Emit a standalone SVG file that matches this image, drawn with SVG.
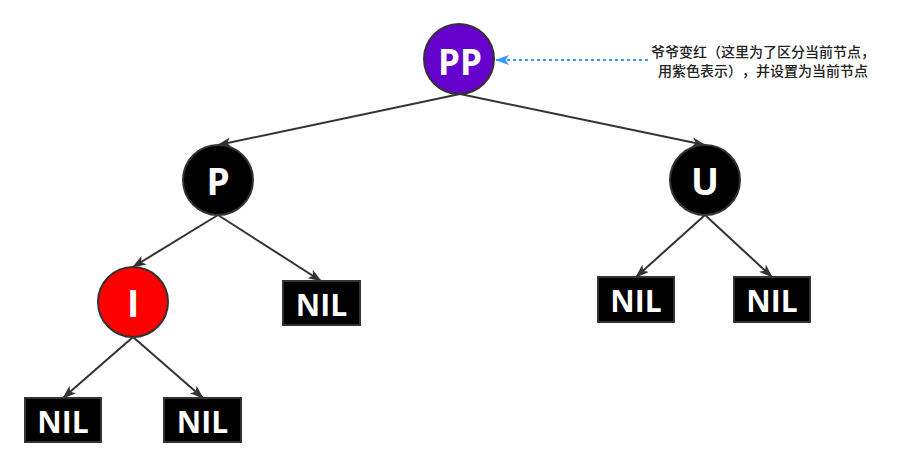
<svg xmlns="http://www.w3.org/2000/svg" width="905" height="467" viewBox="0 0 905 467">
<style>
.circ{stroke:#333;stroke-width:2}
.nil{fill:#000;stroke:#333;stroke-width:2}
.lbl{font-family:"Open Sans","DejaVu Sans",sans-serif;font-weight:bold;fill:#fff;text-anchor:middle}
.edge{stroke:#333;stroke-width:2;fill:none;marker-end:url(#arr)}
.note{font-family:"Noto Sans CJK SC",sans-serif;font-size:14px;font-weight:500;fill:#222;text-anchor:middle;text-spacing-trim:space-all}
</style>
<defs>
<marker id="arr" markerUnits="userSpaceOnUse" viewBox="0 0 14 10" refX="13" refY="5" markerWidth="14" markerHeight="10" orient="auto">
<path d="M0,0 L14,5 L0,10 L3.5,5 Z" fill="#333"/>
</marker>
<marker id="arrb" markerUnits="userSpaceOnUse" viewBox="0 0 14 10" refX="13" refY="5" markerWidth="14" markerHeight="10" orient="auto">
<path d="M0,0 L14,5 L0,10 L3.5,5 Z" fill="#3399ff"/>
</marker>
</defs>
<rect width="905" height="467" fill="#fff"/>
<g id="connectors">
<line class="edge" x1="460" y1="94" x2="218" y2="145"/>
<line class="edge" x1="460" y1="94" x2="705" y2="145"/>
<line class="edge" x1="218" y1="215" x2="133" y2="267"/>
<line class="edge" x1="218" y1="215" x2="321" y2="281"/>
<line class="edge" x1="133" y1="337" x2="63" y2="398"/>
<line class="edge" x1="133" y1="337" x2="203" y2="398"/>
<line class="edge" x1="705" y1="215" x2="636" y2="277"/>
<line class="edge" x1="705" y1="215" x2="772" y2="277"/>
<line x1="648" y1="60" x2="496" y2="60" stroke="#3399ff" stroke-width="2" stroke-dasharray="3 3" marker-end="url(#arrb)"/>
</g>
<g id="PP">
<circle class="circ" cx="459" cy="59" r="35" fill="#6600cc"/>
<text class="lbl" x="460" y="75" font-size="35">PP</text>
</g>
<g id="P">
<circle class="circ" cx="218" cy="180" r="35" fill="#000"/>
<text class="lbl" x="218" y="194.5" font-size="37">P</text>
</g>
<g id="U">
<circle class="circ" cx="705" cy="180" r="35" fill="#000"/>
<text class="lbl" x="705" y="194.5" font-size="37">U</text>
</g>
<g id="I">
<circle class="circ" cx="133" cy="302" r="35" fill="#ff0000"/>
<text class="lbl" x="133" y="316.5" font-size="37">I</text>
</g>
<g id="nil1">
<rect class="nil" x="283" y="281" width="77" height="44"/>
<text class="lbl" x="321.5" y="315.5" font-size="30">NIL</text>
</g>
<g id="nil2">
<rect class="nil" x="25" y="398" width="76" height="44"/>
<text class="lbl" x="63" y="432.5" font-size="30">NIL</text>
</g>
<g id="nil3">
<rect class="nil" x="164" y="398" width="77" height="44"/>
<text class="lbl" x="202.5" y="432.5" font-size="30">NIL</text>
</g>
<g id="nil4">
<rect class="nil" x="598" y="277" width="76" height="45"/>
<text class="lbl" x="636" y="312" font-size="30">NIL</text>
</g>
<g id="nil5">
<rect class="nil" x="734" y="277" width="76" height="45"/>
<text class="lbl" x="772" y="312" font-size="30">NIL</text>
</g>
<g id="note">
<text class="note" x="763" y="57">爷爷变红（这里为了区分当前节点，</text>
<text class="note" x="763" y="76">用紫色表示），并设置为当前节点</text>
</g>
</svg>
